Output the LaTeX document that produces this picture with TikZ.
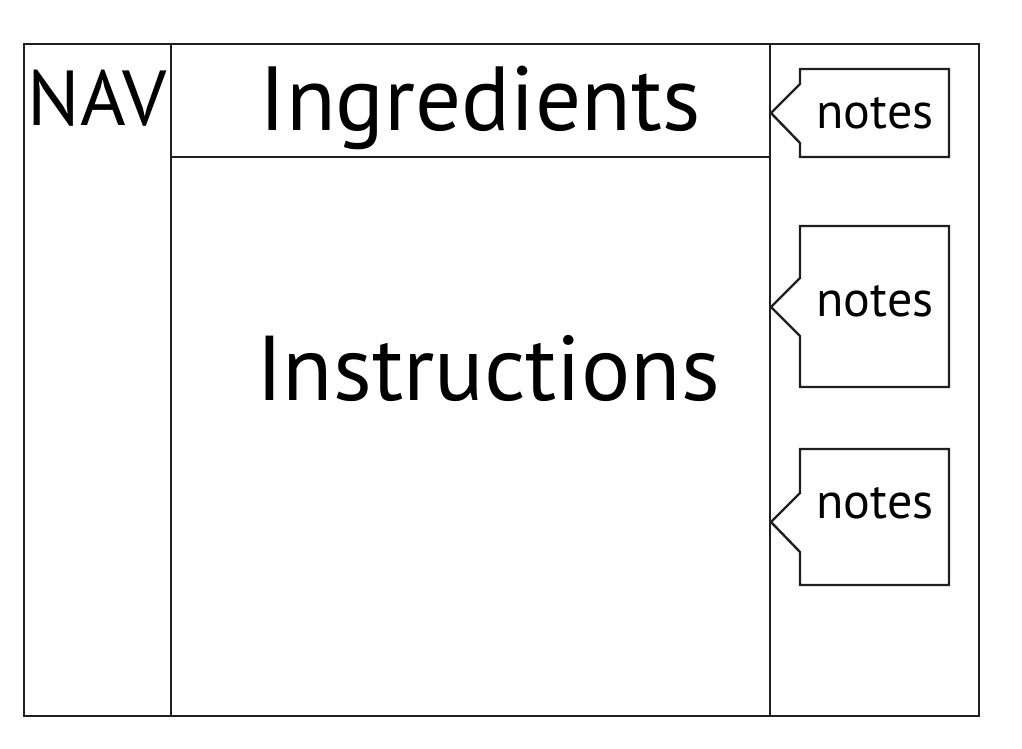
\documentclass[tikz,border=0pt]{standalone}
\usepackage{fontspec}
\setmainfont{PT Sans}
\begin{document}
\begin{tikzpicture}[x=1pt,y=-1pt,
  frame/.style={draw=black!88,line width=2.4pt},
  lbl/.style={anchor=base,inner sep=0pt,text=black},
  notebox/.style={draw=black!88,line width=2.4pt,line join=miter}]
\useasboundingbox (0,0) rectangle (1022,748);
% outer frame and dividers
\draw[frame] (24,44) rectangle (979,716);
\draw[frame] (171,44) -- (171,716);
\draw[frame] (770,44) -- (770,716);
\draw[frame] (171,157) -- (770,157);
% labels
\node[lbl,font=\fontsize{78}{80}\selectfont] (nav) at (97,125) {NAV};
\node[lbl,font=\fontsize{91}{96}\selectfont] (ingr) at (480,130) {Ingredients};
\node[lbl,font=\fontsize{92}{96}\selectfont] (instr) at (488,400) {Instructions};
% notes callouts
\draw[notebox] (800,84) -- (800,69) -- (949,69) -- (949,157) -- (800,157) -- (800,143) -- (771,113) -- cycle;
\node[lbl,font=\fontsize{50}{55}\selectfont] (n1) at (875,128) {notes};
\draw[notebox] (800,278) -- (800,226) -- (949,226) -- (949,387) -- (800,387) -- (800,336) -- (771,307) -- cycle;
\node[lbl,font=\fontsize{50}{55}\selectfont] (n2) at (875,316) {notes};
\draw[notebox] (800,493) -- (800,449) -- (949,449) -- (949,585) -- (800,585) -- (800,552) -- (771,522) -- cycle;
\node[lbl,font=\fontsize{50}{55}\selectfont] (n3) at (875,518) {notes};
\end{tikzpicture}
\end{document}
